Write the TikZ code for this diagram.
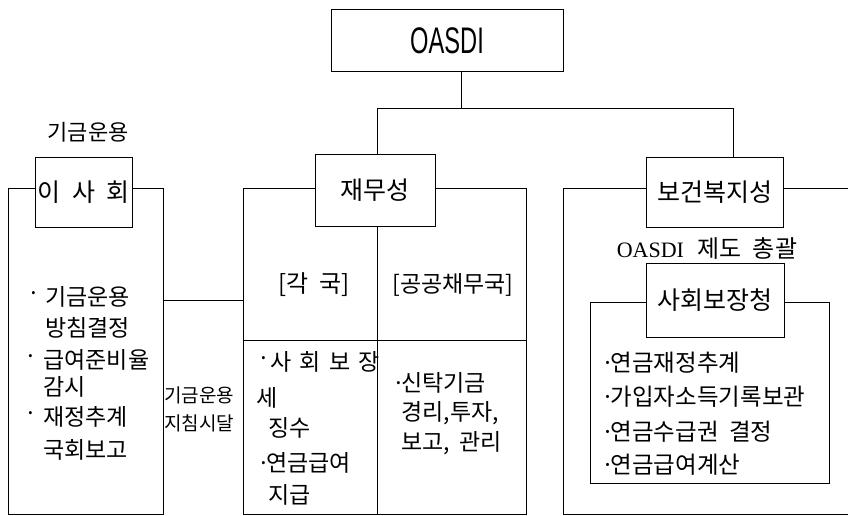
\documentclass[tikz,border=0pt]{standalone}
\usepackage{fontspec}
\usepackage{graphicx}
\setmainfont{Noto Sans CJK KR}
\newfontfamily\latserif{Liberation Serif}
\newfontfamily\latsans{Liberation Sans}
\newcommand\fsz[1]{\fontsize{#1}{#1}\selectfont}
\begin{document}
\begin{tikzpicture}[x=1pt,y=-1pt,line width=1pt,
  every node/.style={font=\fsz{23}, inner sep=0pt},
  orgbox/.style={draw, line width=1pt, font=\fsz{25}},
  txt/.style={anchor=west},
  lcol/.style={anchor=west, font=\fsz{23}},
  mcol/.style={anchor=west, font=\fsz{23}},
  rcol/.style={anchor=west, font=\fsz{23.5}},
  small/.style={font=\fsz{19}}]
\useasboundingbox (0,0) rectangle (848,516);

% boxes
\node[orgbox, minimum width=232pt, minimum height=62pt] (oasdi) at (447,41)
  {\scalebox{0.64}[1]{\fsz{37}\latsans OASDI}};
\node[orgbox, minimum width=120pt, minimum height=72pt] (jaemu) at (375,190) {재무성};
\node[orgbox, minimum width=97pt, minimum height=70pt] (isa) at (83.5,192) {이\hspace{6pt} 사\hspace{6pt} 회};
\node[orgbox, minimum width=137pt, minimum height=70pt] (bok) at (714.5,192) {보건복지성};
\node[orgbox, minimum width=138pt, minimum height=74pt] (sa) at (715,300) {사회보장청};

% top connectors
\coordinate (t1) at (461,109);
\coordinate (t3) at (733,109);
\coordinate (t2) at (377,109);
\draw (oasdi.south -| t1) -- (t1);
\draw (t2 |- jaemu.north) -- (t2) -- (t3) -- (t3 |- bok.north);

% middle frame
\coordinate (mL) at (243,188); \coordinate (mR) at (526,188);
\coordinate (mBL) at (243,514); \coordinate (mBR) at (526,514);
\coordinate (mM) at (377,514); \coordinate (hL) at (243,340);
\draw (jaemu.west |- mL) -- (mL) -- (mBL) -- (mBR) -- (mR) -- (jaemu.east |- mR);
\draw (jaemu.south -| mM) -- (mM);
\draw (hL) -- (hL -| mR);

% left frame
\coordinate (lL) at (8,188); \coordinate (lR) at (163,188);
\coordinate (lBL) at (8,514); \coordinate (lBR) at (163,514);
\draw (isa.west |- lL) -- (lL) -- (lBL) -- (lBR) -- (lR) -- (isa.east |- lR);
\coordinate (c1) at (163,300);
\draw (c1) -- (c1 -| mL);

% right frame
\coordinate (rL) at (563,188); \coordinate (rE) at (848,188);
\coordinate (rBL) at (563,514); \coordinate (rBE) at (848,514);
\draw (bok.east |- rE) -- (rE);
\draw (bok.west |- rL) -- (rL) -- (rBL) -- (rBE);
\coordinate (iL) at (590,302); \coordinate (iR) at (829,302);
\coordinate (iBL) at (590,483); \coordinate (iBR) at (829,483);
\draw (sa.west |- iL) -- (iL) -- (iBL) -- (iBR) -- (iR) -- (sa.east |- iR);

% labels
\node[font=\fsz{22}] (lab1) at (88,132) {기금운용};
\node[font=\fsz{24}] (lab2) at (707,248) {{\latserif\fsz{22}OASDI}\hspace{8pt} 제도\hspace{6pt} 총괄};
\node[font=\fsz{24}] (gak) at (314,285) {[각\hspace{5pt} 국]};
\node[font=\fsz{23}] (gong) at (453,285) {[공공채무국]};
\node[small] (ji1) at (199,395) {기금운용};
\node[small] (ji2) at (199,423) {지침시달};

% left column
\node[lcol] (lb1) at (27,297) {·};
\node[lcol] (l1) at (45,297) {기금운용};
\node[lcol] (l2) at (45,328) {방침결정};
\node[lcol] (lb3) at (24,360) {·};
\node[lcol] (l3) at (43,360) {급여준비율};
\node[lcol] (l4) at (43,387) {감시};
\node[lcol] (lb5) at (24,417) {·};
\node[lcol] (l5) at (43,417) {재정추계};
\node[lcol] (l6) at (43,450) {국회보고};

% middle left cell
\node[mcol] (ml1) at (257,362) {·};
\node[mcol] (ml1t) at (270,362) {사\hspace{3pt} 회\hspace{3pt} 보\hspace{3pt} 장};
\node[mcol] (ml2) at (256,398) {세};
\node[mcol] (ml3) at (268,428) {징수};
\node[mcol] (ml4) at (257,463) {·\hspace{-4pt}연금급여};
\node[mcol] (ml5) at (268,495) {지급};

% middle right cell
\node[mcol] (mr1) at (392,383) {·\hspace{-4pt}신탁기금};
\node[mcol] (mr2) at (401,413) {경리,투자,};
\node[mcol] (mr3) at (401,443) {보고,\hspace{4pt} 관리};

% right inner frame
\node[rcol] (r1) at (601,363) {·\hspace{-4pt}연금재정추계};
\node[rcol] (r2) at (601,397) {·\hspace{-4pt}가입자소득기록보관};
\node[rcol] (r3) at (601,432) {·\hspace{-4pt}연금수급권\hspace{5pt} 결정};
\node[rcol] (r4) at (601,465) {·\hspace{-4pt}연금급여계산};
\end{tikzpicture}
\end{document}
